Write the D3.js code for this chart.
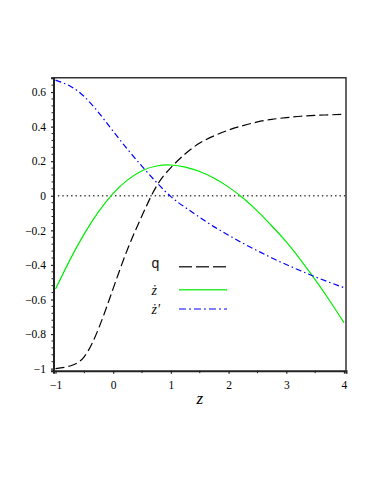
<!DOCTYPE html>
<html>
<head>
<meta charset="utf-8">
<script src="https://cdn.jsdelivr.net/npm/d3@7"></script>
<style>
  body { margin: 0; background: #fff; }
  svg text { font-family: "Liberation Serif", "DejaVu Serif", serif; }
</style>
</head>
<body>
<div id="chart"></div>
<script>
// sample points along z
var zValues = [-1, -0.75, -0.5, -0.25, 0, 0.25, 0.5, 0.75, 1, 1.25, 1.5,
               1.75, 2, 2.25, 2.5, 2.75, 3, 3.25, 3.5, 3.75, 4];

// q (black dashes)
var qValues = [-1.0, -0.985, -0.93, -0.765, -0.536, -0.308, -0.115, 0.055, 0.163, 0.243, 0.305,
               0.347, 0.38, 0.406, 0.427, 0.442, 0.452, 0.46, 0.465, 0.468, 0.471];

// zdot (green)
var zdotValues = [-0.54, -0.371, -0.219, -0.09, 0.014, 0.092, 0.145, 0.172, 0.178, 0.166, 0.14,
                  0.101, 0.05, -0.013, -0.089, -0.175, -0.267, -0.372, -0.485, -0.606, -0.734];

// zdot' (blue dash-dot)
var zdotPrimeValues = [0.669, 0.635, 0.573, 0.48, 0.373, 0.268, 0.17, 0.078, -0.005, -0.068, -0.125,
                       -0.18, -0.228, -0.275, -0.318, -0.36, -0.398, -0.434, -0.469, -0.501, -0.532];

var xTicks = [-1, 0, 1, 2, 3, 4];
var yTicks = [-1, -0.8, -0.6, -0.4, -0.2, 0, 0.2, 0.4, 0.6];

var legendLabels = ["q", "ż", "ż'"];

var svgWidth = 374, svgHeight = 484;
var margin = { top: 77.7, right: 28, bottom: 113.3, left: 53.5 };

var svg = d3.select("#chart").append("svg")
    .attr("width", svgWidth)
    .attr("height", svgHeight);

var x = d3.scaleLinear().domain([-1.035, 4.035]).range([margin.left, svgWidth - margin.right]);
var y = d3.scaleLinear().domain([-1.012, 0.683]).range([svgHeight - margin.bottom, margin.top]);

// frame (top and right)
svg.append("path")
    .attr("d", `M${x.range()[0]},${y.range()[1]} H${x.range()[1]} V${y.range()[0]}`)
    .attr("fill", "none")
    .attr("stroke", "#333")
    .attr("stroke-width", 1.5);

// zero line (dotted)
svg.append("line")
    .attr("x1", x.range()[0]).attr("x2", x.range()[1])
    .attr("y1", y(0)).attr("y2", y(0))
    .attr("stroke", "#444")
    .attr("stroke-width", 1.3)
    .attr("stroke-dasharray", "1.4,3");

// minor ticks
var xMinor = d3.range(-1, 4.01, 0.5).filter(v => xTicks.indexOf(v) < 0);
var yMinor = d3.range(-1, 0.681, 0.04).map(v => +v.toFixed(2))
    .filter(v => !yTicks.some(t => Math.abs(t - v) < 1e-6));

// x axis
var xAxis = svg.append("g")
    .attr("transform", `translate(0,${y.range()[0]})`)
    .call(d3.axisBottom(x).tickValues(xTicks).tickSize(3).tickPadding(7).tickFormat(d3.format("d")));
xAxis.append("g").selectAll("line").data(xMinor).enter().append("line")
    .attr("x1", d => x(d)).attr("x2", d => x(d))
    .attr("y1", 0).attr("y2", 2.5)
    .attr("stroke", "#222");

// y axis
var yAxis = svg.append("g")
    .attr("transform", `translate(${x.range()[0]},0)`)
    .call(d3.axisLeft(y).tickValues(yTicks).tickSize(2.5).tickPadding(5).tickFormat(d => d3.format("")(+d.toFixed(1))));
yAxis.append("g").selectAll("line").data(yMinor).enter().append("line")
    .attr("y1", d => y(d)).attr("y2", d => y(d))
    .attr("x1", 0).attr("x2", -2)
    .attr("stroke", "#222");

[xAxis, yAxis].forEach(function(ax) {
    ax.select(".domain").attr("stroke", "#222").attr("stroke-width", 2);
    ax.selectAll(".tick line").attr("stroke", "#222").attr("stroke-width", 1.2);
    ax.selectAll("text")
        .attr("fill", "#000")
        .style("font-size", "11.5px")
        .style("font-family", "'Liberation Serif', serif");
});

// axis label
svg.append("text")
    .attr("x", x(1.5))
    .attr("y", 404)
    .attr("text-anchor", "middle")
    .style("font-size", "17px")
    .style("font-style", "italic")
    .text("z");

// curves
var line = d3.line()
    .x((d, i) => x(zValues[i]))
    .y(d => y(d))
    .curve(d3.curveNatural);

var series = [
    { values: qValues, color: "#000", width: 1.2, dash: "9,4" },
    { values: zdotValues, color: "#00ee00", width: 1.2, dash: null },
    { values: zdotPrimeValues, color: "#0000ff", width: 1.2, dash: "6,3,1.5,3" }
];

series.forEach(function(s) {
    svg.append("path")
        .datum(s.values)
        .attr("d", line)
        .attr("fill", "none")
        .attr("stroke", s.color)
        .attr("stroke-width", s.width)
        .attr("stroke-dasharray", s.dash);
});

// legend
var legendY = [266.7, 289.7, 309];
var legend = svg.append("g");
series.forEach(function(s, i) {
    legend.append("line")
        .attr("x1", 179).attr("x2", 227)
        .attr("y1", legendY[i]).attr("y2", legendY[i])
        .attr("stroke", s.color === "#000" ? "#333" : (i === 1 ? "#33ee33" : "#5555ff"))
        .attr("stroke-width", 1.5)
        .attr("stroke-dasharray", i === 0 ? "13,4" : (i === 2 ? "7,3,2,3" : null));
    legend.append("text")
        .attr("x", 151.5)
        .attr("y", legendY[i] + (i === 0 ? 1.5 : 5))
        .style("font-size", "14px")
        .style("font-style", i === 0 ? "normal" : "italic")
        .style("font-family", i === 0 ? "'Liberation Sans', sans-serif" : "'Liberation Serif', serif")
        .attr("fill", "#111")
        .text(legendLabels[i]);
});
</script>
</body>
</html>
